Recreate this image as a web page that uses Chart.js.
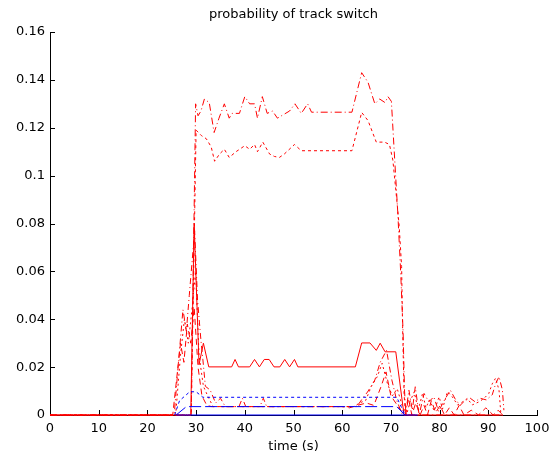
<!DOCTYPE html>
<html>
<head>
<meta charset="utf-8">
<script src="https://cdn.jsdelivr.net/npm/chart.js@4/dist/chart.umd.min.js"></script>
<style>
html,body{margin:0;padding:0;background:#fff;}
canvas{display:block;}
</style>
</head>
<body>
<canvas id="c" width="557" height="457"></canvas>
<script>
// ---- data ----
const xTicks = [0,10,20,30,40,50,60,70,80,90,100];
const yTickLabels = ['0','0.02','0.04','0.06','0.08','0.1','0.12','0.14','0.16'];

// red dash-dot, upper plateau
const tA = [0,29.0,29.9,30.4,31.0,31.7,32.7,33.7,34.7,35.8,36.8,37.4,38.9,40.0,41.0,42.0,42.6,43.6,44.6,45.7,46.7,49.2,50.3,51.6,52.9,53.7,62.0,64.0,65.3,66.7,67.7,68.8,69.4,70.1,70.8,71.4,72.0,72.5,72.8,73.1,93.0];
const vA = [0,0,0.130,0.125,0.127,0.132,0.1305,0.118,0.124,0.130,0.124,0.126,0.126,0.133,0.130,0.130,0.124,0.133,0.126,0.127,0.124,0.127,0.130,0.126,0.130,0.1265,0.1265,0.143,0.139,0.130,0.132,0.1305,0.133,0.131,0.106,0.085,0.06,0.035,0.01,0,0];

// red dotted, lower plateau (~0.11)
const tB = [0,29.0,30.0,31.1,32.1,33.1,33.8,34.8,35.8,36.8,38.2,40.0,41.0,42.0,42.6,43.7,45.1,46.1,47.1,48.1,50.2,51.6,62.0,64.0,65.3,67.0,68.7,69.7,70.4,71.2,71.7,72.2,72.4,72.7,73.0];
const vB = [0,0,0.119,0.1167,0.1154,0.112,0.106,0.109,0.111,0.1076,0.110,0.1125,0.111,0.113,0.110,0.114,0.109,0.108,0.1076,0.109,0.113,0.1104,0.1104,0.1264,0.123,0.114,0.114,0.113,0.1065,0.09,0.079,0.062,0.037,0.009,0];

// red solid (~0.02)
const tC = [0,28.9,29.6,30.6,31.5,32.6,37.3,38.0,38.7,41.0,42.0,43.0,44.0,45.0,46.0,47.2,48.2,49.2,50.2,50.9,62.7,64.0,65.7,67.0,67.8,68.8,71.0,72.7,93.0];
const vC = [0,0,0.08,0.021,0.030,0.0201,0.0201,0.0232,0.0201,0.0201,0.0232,0.0201,0.0232,0.0232,0.0201,0.0201,0.0232,0.0201,0.0232,0.0201,0.0201,0.0301,0.0301,0.027,0.030,0.0264,0.0264,0,0];

// red dash-dot, spike near 30 s, low level, tail noise
const tD = [0,25.5,26.3,27.3,28.0,28.6,29.7,30.3,31.0,31.4,31.9,32.9,34.0,35.0,36.0,38.8,39.5,40.2,43.1,43.8,44.5,63.0,64.2,65.2,66.7,67.8,69.1,70.2,71.2,72.4,73.0,73.7,74.4,75.0,75.8,76.8,77.8,78.8,79.8,80.8,82.2,83.2,84.2,85.2,86.3,87.3,88.3,89.6,90.8,91.5,92.2,92.9,93.2];
const vD = [0,0,0.02,0.044,0.035,0.05,0.077,0.048,0.031,0.023,0.012,0.0104,0.005,0.007,0.0035,0.0035,0.007,0.0035,0.0035,0.007,0.0035,0.0035,0.007,0.0096,0.0146,0.022,0.027,0.0146,0.006,0,0,0.0104,0.002,0.0118,0,0.009,0.0055,0.0076,0.0015,0.0055,0.0104,0.0067,0.004,0.006,0.007,0.0055,0.007,0.0063,0.0084,0.013,0.016,0.0104,0.002];

// red dotted, second spike and tail noise
const tE = [0,25.8,26.8,27.6,28.4,29.2,29.9,30.6,31.5,32.6,33.5,62.5,63.5,64.8,66.0,67.2,68.2,69.3,70.3,71.3,72.3,73.2,74.0,74.8,75.6,76.5,77.2,77.9,78.9,79.9,80.6,81.6,82.6,83.7,84.7,85.7,86.7,88.1,89.1,90.1,90.8,91.5,92.2,92.6];
const vE = [0,0,0.025,0.04,0.03,0.045,0.06,0.025,0.012,0.007,0.0035,0.0035,0.005,0.006,0.012,0.016,0.0216,0.013,0.008,0.011,0.004,0,0.006,0.0097,0.002,0.009,0.003,0.0063,0.0017,0.0076,0.0025,0.0097,0.0076,0.0042,0.0055,0.0069,0.0042,0.0055,0.0069,0.009,0.013,0.0154,0.0104,0];

// red dashed, third spike and tail noise
const tF = [0,25.2,26.0,26.8,27.5,28.2,28.9,29.6,30.4,31.2,32.2,33.2,60.0,61.5,63.0,65.0,66.5,68.0,69.0,70.0,71.0,72.0,73.0,73.6,74.3,75.1,76.0,76.8,77.5,78.3,79.2,80.1,81.0,82.0,83.0,84.0,85.0,86.5,88.0,89.5,91.0,92.0,93.0];
const vF = [0,0,0.015,0.03,0.022,0.038,0.03,0.045,0.02,0.008,0.004,0.0035,0.0035,0.003,0.004,0.005,0.004,0.012,0.018,0.008,0.005,0.002,0,0.007,0,0.005,0,0.004,0,0.006,0.001,0.004,0,0.003,0,0.004,0,0.002,0,0.003,0,0.002,0];

// blue series
const tBlueDot = [25.6,26.6,28.7,30.0,31.4,71.2,72.9];
const vBlueDot = [0,0.006,0.0097,0.0097,0.0074,0.0074,0];
const tBlueDash = [25.9,28.0,71.2,72.9];
const vBlueDash = [0,0.0035,0.0035,0];
const tBlueSolid = [26.0,75.5];
const vBlueSolid = [0,0];

// ---- chart ----
const RED = '#ff0000', BLUE = '#0000ff';
const pts = (t, v) => t.map((x, i) => ({x: x, y: v[i]}));
function ds(t, v, color, dash) {
  return {data: pts(t, v), borderColor: color, borderWidth: 1, borderDash: dash,
          pointRadius: 0, fill: false, tension: 0, clip: false};
}
const FONT = {family: 'DejaVu Sans, sans-serif', size: 13, weight: 'normal'};

const inwardTicks = {
  id: 'inwardTicks',
  beforeDatasetsDraw(chart) {
    const {ctx, chartArea: a} = chart;
    const x = chart.scales.x, y = chart.scales.y;
    ctx.save();
    ctx.strokeStyle = '#000';
    ctx.lineWidth = 1;
    ctx.beginPath();
    x.ticks.forEach((t, i) => {
      const px = Math.round(x.getPixelForTick(i)) + 0.5;
      ctx.moveTo(px, a.bottom); ctx.lineTo(px, a.bottom - 5);
    });
    y.ticks.forEach((t, i) => {
      const py = Math.round(y.getPixelForTick(i)) + 0.5;
      ctx.moveTo(a.left, py); ctx.lineTo(a.left + 5, py);
    });
    ctx.stroke();
    ctx.restore();
  }
};

new Chart(document.getElementById('c'), {
  type: 'line',
  data: {
    datasets: [
      ds(tBlueSolid, vBlueSolid, BLUE, []),
      ds(tBlueDash, vBlueDash, BLUE, [12, 4]),
      ds(tBlueDot, vBlueDot, BLUE, [3, 3]),
      ds(tA, vA, RED, [7, 3, 1, 3]),
      ds(tB, vB, RED, [3, 3]),
      ds(tD, vD, RED, [6, 3, 1, 3]),
      ds(tE, vE, RED, [2, 3]),
      ds(tF, vF, RED, [6, 4]),
      ds(tC, vC, RED, [])
    ]
  },
  options: {
    responsive: false,
    animation: false,
    devicePixelRatio: 1,
    layout: {padding: {left: 0, right: 20, top: 0, bottom: 0}},
    plugins: {
      legend: {display: false},
      tooltip: {enabled: false},
      title: {
        display: true,
        text: 'probability of track switch',
        color: '#000',
        font: FONT,
        fullSize: false,
        padding: {top: 7, bottom: 9.4}
      }
    },
    scales: {
      x: {
        type: 'linear',
        min: 0, max: 100,
        afterBuildTicks(s) { s.ticks = xTicks.map(v => ({value: v})); },
        ticks: {color: '#000', font: FONT, padding: 6, maxRotation: 0, autoSkip: false,
                callback: v => String(v)},
        grid: {display: true, drawOnChartArea: false, drawTicks: false},
        border: {display: true, color: '#000', width: 1},
        title: {display: true, text: 'time (s)', color: '#000', font: FONT, padding: {top: 0, bottom: 3}},
        afterFit(s) { s.height = 42; }
      },
      y: {
        type: 'linear',
        min: 0, max: 0.16,
        afterBuildTicks(s) { s.ticks = yTickLabels.map(l => ({value: parseFloat(l)})); },
        ticks: {color: '#000', font: FONT, padding: 5, autoSkip: false,
                callback: (v, i) => yTickLabels[i]},
        grid: {display: true, drawOnChartArea: false, drawTicks: false},
        border: {display: true, color: '#000', width: 1},
        afterFit(s) { s.width = 50; }
      }
    }
  },
  plugins: [inwardTicks]
});
</script>
</body>
</html>
